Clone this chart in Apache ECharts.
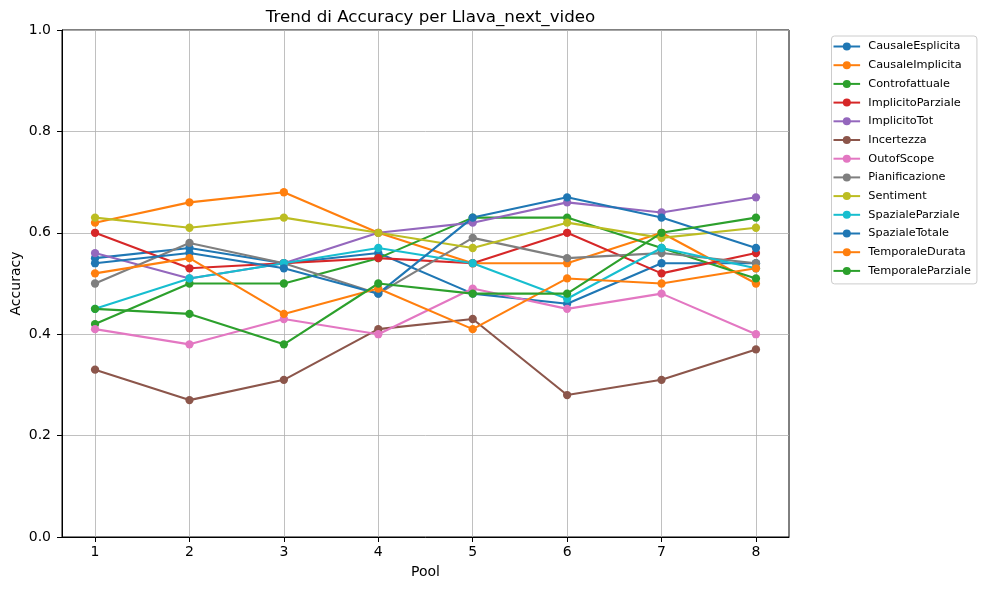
<!DOCTYPE html>
<html>
<head>
<meta charset="utf-8">
<script src="https://cdn.jsdelivr.net/npm/echarts@6/dist/echarts.min.js"></script>
<style>
  html, body { margin: 0; padding: 0; background: #fff; }
  #chart { width: 987px; height: 590px; }
</style>
</head>
<body>
<div id="chart"></div>
<script>
const pools = [1, 2, 3, 4, 5, 6, 7, 8];
const yTicks = [0, 0.2, 0.4, 0.6, 0.8, 1.0];

const seriesNames = [
  'CausaleEsplicita', 'CausaleImplicita', 'Controfattuale', 'ImplicitoParziale',
  'ImplicitoTot', 'Incertezza', 'OutofScope', 'Pianificazione', 'Sentiment',
  'SpazialeParziale', 'SpazialeTotale', 'TemporaleDurata', 'TemporaleParziale'
];

const CausaleEsplicita  = [0.55, 0.57, 0.54, 0.56, 0.48, 0.46, 0.54, 0.54];
const CausaleImplicita  = [0.62, 0.66, 0.68, 0.60, 0.54, 0.54, 0.60, 0.50];
const Controfattuale    = [0.42, 0.50, 0.50, 0.55, 0.63, 0.63, 0.57, 0.51];
const ImplicitoParziale = [0.60, 0.53, 0.54, 0.55, 0.54, 0.60, 0.52, 0.56];
const ImplicitoTot      = [0.56, 0.51, 0.54, 0.60, 0.62, 0.66, 0.64, 0.67];
const Incertezza        = [0.33, 0.27, 0.31, 0.41, 0.43, 0.28, 0.31, 0.37];
const OutofScope        = [0.41, 0.38, 0.43, 0.40, 0.49, 0.45, 0.48, 0.40];
const Pianificazione    = [0.50, 0.58, 0.54, 0.48, 0.59, 0.55, 0.56, 0.54];
const Sentiment         = [0.63, 0.61, 0.63, 0.60, 0.57, 0.62, 0.59, 0.61];
const SpazialeParziale  = [0.45, 0.51, 0.54, 0.57, 0.54, 0.47, 0.57, 0.53];
const SpazialeTotale    = [0.54, 0.56, 0.53, 0.48, 0.63, 0.67, 0.63, 0.57];
const TemporaleDurata   = [0.52, 0.55, 0.44, 0.49, 0.41, 0.51, 0.50, 0.53];
const TemporaleParziale = [0.45, 0.44, 0.38, 0.50, 0.48, 0.48, 0.60, 0.63];

const seriesValues = [
  CausaleEsplicita, CausaleImplicita, Controfattuale, ImplicitoParziale,
  ImplicitoTot, Incertezza, OutofScope, Pianificazione, Sentiment,
  SpazialeParziale, SpazialeTotale, TemporaleDurata, TemporaleParziale
];

const tab10 = ['#1f77b4', '#ff7f0e', '#2ca02c', '#d62728', '#9467bd',
               '#8c564b', '#e377c2', '#7f7f7f', '#bcbd22', '#17becf'];

const FONT = 'DejaVu Sans';
const chart = echarts.init(document.getElementById('chart'), null, { renderer: 'canvas' });

const series = seriesNames.map((name, i) => ({
  name: name,
  type: 'line',
  data: pools.map((p, j) => [p, seriesValues[i][j]]),
  symbol: 'circle',
  symbolSize: 8.3,
  showSymbol: true,
  color: tab10[i % 10],
  lineStyle: { width: 2.1, color: tab10[i % 10] },
  itemStyle: { color: tab10[i % 10] },
  emphasis: { disabled: true },
  animation: false
}));

chart.setOption({
  animation: false,
  backgroundColor: '#ffffff',
  title: {
    text: 'Trend di Accuracy per Llava_next_video',
    left: 425.5,
    top: 4,
    textAlign: 'center',
    textStyle: { fontFamily: FONT, fontSize: 16.7, fontWeight: 'normal', color: '#000' }
  },
  grid: {
    left: 62, right: 198, top: 30, bottom: 53,
    show: true, borderColor: '#000', borderWidth: 1, backgroundColor: 'transparent',
    containLabel: false,
    outerBoundsMode: 'none'
  },
  legend: {
    orient: 'vertical',
    left: 831.5,
    top: 36,
    padding: [3.5, 6, 6, 1],
    itemWidth: 26.6,
    itemHeight: 10,
    itemGap: 4.7,
    borderColor: '#cccccc',
    borderWidth: 1,
    borderRadius: 3,
    backgroundColor: 'rgba(255,255,255,0.8)',
    textStyle: { fontFamily: FONT, fontSize: 11.3, lineHeight: 14, color: '#000', padding: [0, 0, 0, 3.2] },
    data: seriesNames
  },
  xAxis: {
    type: 'value',
    min: 0.65,
    max: 8.35,
    name: 'Pool',
    nameLocation: 'middle',
    nameGap: 28,
    nameMoveOverlap: false,
    nameTextStyle: { fontFamily: FONT, fontSize: 14, color: '#000' },
    axisLine: { show: true, lineStyle: { color: '#000', width: 1 } },
    axisTick: { show: true, length: 5, lineStyle: { color: '#000', width: 1 }, customValues: pools },
    axisLabel: { fontFamily: FONT, fontSize: 14, color: '#000', margin: 8, customValues: pools },
    splitLine: { show: true, lineStyle: { color: '#b0b0b0', width: 0.8 } }
  },
  yAxis: {
    type: 'value',
    min: 0,
    max: 1,
    interval: 0.2,
    name: 'Accuracy',
    nameLocation: 'middle',
    nameGap: 39,
    nameMoveOverlap: false,
    nameTextStyle: { fontFamily: FONT, fontSize: 14, color: '#000' },
    axisLine: { show: true, lineStyle: { color: '#000', width: 1 } },
    axisTick: { show: true, length: 5, lineStyle: { color: '#000', width: 1 } },
    axisLabel: {
      fontFamily: FONT, fontSize: 14, color: '#000', margin: 11,
      formatter: v => v.toFixed(1)
    },
    splitLine: { show: true, lineStyle: { color: '#b0b0b0', width: 0.8 } }
  },
  series: series
});
</script>
</body>
</html>
